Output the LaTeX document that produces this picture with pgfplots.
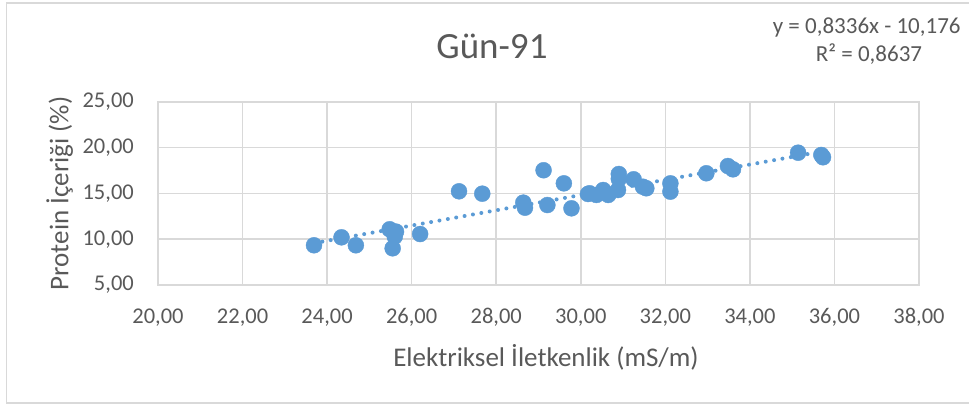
\documentclass[border=0pt]{standalone}
\usepackage{pgfplots}
\pgfplotsset{compat=1.18}
\usepackage{fontspec}
\setmainfont{Carlito}
\definecolor{txt}{HTML}{595959}
\definecolor{gridc}{HTML}{D9D9D9}
\definecolor{ser}{HTML}{5B9BD5}
\begin{document}
\begin{tikzpicture}[x=1pt,y=1pt]
\path[use as bounding box] (-158,-121) rectangle (811,285);
\draw[gridc, line width=1.5pt] (-151.5,-118) rectangle (830,282);
\begin{axis}[
  at={(0,0)}, anchor=south west,
  scale only axis, width=761pt, height=183pt,
  xmin=20, xmax=38, ymin=5, ymax=25,
  xtick distance=2, ytick distance=5,
  grid=major,
  major grid style={gridc, line width=1.5pt},
  axis line style={gridc, line width=1.5pt},
  major tick length=0pt,
  tick label style={font=\fontsize{22.5}{27}\selectfont, text=txt, inner sep=0pt},
  xticklabel style={anchor=base, yshift=-39pt},
  yticklabel style={anchor=east, xshift=-24pt},
  /pgf/number format/.cd, use comma, fixed, fixed zerofill, precision=2, assume math mode=true,
  /pgfplots/.cd,
  clip=false,
]
\addplot[ser, line width=4pt, line cap=round, dash pattern=on 0pt off 8.5pt] coordinates {(23.69,9.572) (35.73,19.609)};
\addplot[only marks, mark=*, mark size=8pt, mark options={fill=ser, draw=ser}] coordinates {
(23.69,9.34) (24.34,10.21) (24.68,9.34) (25.48,11.09) (25.63,10.83) (25.60,10.30)
(25.55,9.01) (26.20,10.57) (27.12,15.24) (27.67,14.98) (28.64,14.00) (28.68,13.45)
(29.12,17.54) (29.21,13.74) (29.60,16.11) (29.78,13.38) (30.17,14.95) (30.21,15.02)
(30.37,14.84) (30.53,15.38) (30.65,14.84) (30.88,15.38) (30.90,17.13) (30.90,16.60)
(31.25,16.55) (31.47,15.74) (31.55,15.57) (32.12,16.11) (32.12,15.20) (32.97,17.21)
(33.48,18.00) (33.60,17.64) (35.14,19.46) (35.69,19.21) (35.73,18.96)};
\end{axis}
\node[anchor=base, text=txt, font=\fontsize{37}{40}\selectfont, inner sep=0pt] at (334,226.7) {Gün-91};
\node[anchor=base, text=txt, font=\fontsize{23}{27}\selectfont, inner sep=0pt] at (708.7,251.7) {y = 0,8336x - 10,176};
\node[anchor=base, text=txt, font=\fontsize{23}{27}\selectfont, inner sep=0pt] at (711,223.3) {R² = 0,8637};
\node[anchor=base, text=txt, font=\fontsize{27}{30}\selectfont, inner sep=0pt] at (388,-81.7) {Elektriksel İletkenlik (mS/m)};
\node[anchor=base, rotate=90, text=txt, font=\fontsize{27}{30}\selectfont, inner sep=0pt] at (-89.5,91.5) {Protein İçeriği (\%)};
\end{tikzpicture}
\end{document}
